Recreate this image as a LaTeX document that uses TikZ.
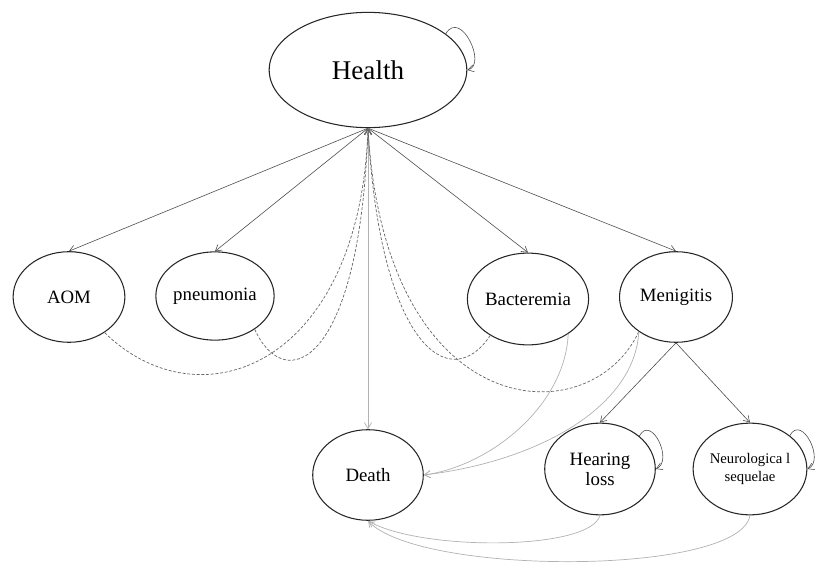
\documentclass[tikz,border=0pt]{standalone}
\usepackage{fontspec}
\setmainfont{Liberation Serif}
\usepackage{tikz}
\usetikzlibrary{shapes.geometric,arrows.meta}

\begin{document}
\begin{tikzpicture}[x=0.85pt,y=0.85pt,
  state/.style={ellipse,draw=black!85,line width=0.9pt,inner sep=0pt,
    font=\fontsize{16}{17}\selectfont,align=center},
  trans/.style={draw=black!70,line width=0.5pt,-{Straight Barb[length=5pt,width=6pt]}},
  fade/.style={draw=black!30,line width=0.6pt,-{Straight Barb[length=5pt,width=6pt]}},
  back/.style={draw=black!60,line width=0.6pt,dashed,dash pattern=on 2.5pt off 1.5pt,-{Straight Barb[length=5pt,width=6pt]}}]
\useasboundingbox (0,0) rectangle (828,566);
  % states
  \node[state,minimum width=168,minimum height=98,font=\fontsize{23}{26}\selectfont] (health) at (368,496) {Health};
  \node[state,minimum width=95,minimum height=77] (aom) at (69,269) {AOM};
  \node[state,minimum width=96,minimum height=75] (pneumonia) at (215,270) {pneumonia};
  \node[state,minimum width=95,minimum height=78] (bacteremia) at (528,267) {Bacteremia};
  \node[state,minimum width=96,minimum height=77] (menigitis) at (676,269) {Menigitis};
  \node[state,minimum width=94,minimum height=77] (death) at (368,91) {Death};
  \node[state,minimum width=94,minimum height=78] (hearing) at (600,97) {Hearing\\loss};
  \node[state,minimum width=90,minimum height=78,font=\fontsize{12.5}{15}\selectfont] (neuro) at (750,97) {Neurologica l\\sequelae};
  % onset
  \draw[trans] (health.south) -- (aom.north);
  \draw[trans] (health.south) -- (pneumonia.north);
  \draw[trans] (health.south) -- (bacteremia.north);
  \draw[trans] (health.south) -- (menigitis.north);
  \draw[fade] (health.south) -- (death.north);
  \draw[trans] (menigitis.south) -- (hearing.north);
  \draw[trans] (menigitis.south) -- (neuro.north);
  % recovery
  \draw[back] (aom.-45) .. controls (200,140) and (360,200) .. (health.south);
  \draw[back] (pneumonia.-40) .. controls (285,170) and (360,200) .. (health.south);
  \draw[back] (bacteremia.-136) .. controls (450,170) and (380,220) .. (health.south);
  \draw[back] (menigitis.-137) .. controls (590,130) and (385,140) .. (health.south);
  % deaths
  \draw[fade] (bacteremia.-41) .. controls (565,160) and (490,100) .. (death.east);
  \draw[fade] (menigitis.-137) .. controls (635,160) and (540,105) .. (death.east);
  \draw[fade] (hearing.south) .. controls (590,15) and (420,15) .. (death.south);
  \draw[fade] (neuro.south) .. controls (740,-10) and (420,-10) .. (death.south);
  % stay
  \draw[trans] (health.25) .. controls +(15,25) and +(20,5) .. (health.east);
  \draw[trans] (hearing.40) .. controls +(12,22) and +(18,8) .. (hearing.east);
  \draw[trans] (neuro.40) .. controls +(12,22) and +(18,8) .. (neuro.east);
\end{tikzpicture}
\end{document}
